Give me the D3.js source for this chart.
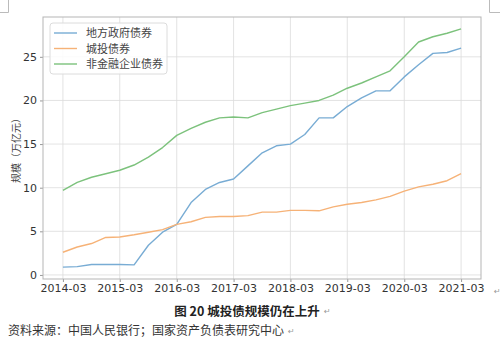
<!DOCTYPE html>
<html>
<head>
<meta charset="utf-8">
<script src="https://cdn.jsdelivr.net/npm/d3@7"></script>
<style>
  body { margin: 0; background: #fff; }
  #chart { width: 500px; height: 362px; }
  .tick text { font-family: "DejaVu Sans", sans-serif; font-size: 11px; fill: #333; }
</style>
</head>
<body>
<div id="chart"></div>
<script>
// quarterly dates, 2014-03 .. 2021-03
const quarters = [
  "2014-03", "2014-06", "2014-09", "2014-12",
  "2015-03", "2015-06", "2015-09", "2015-12",
  "2016-03", "2016-06", "2016-09", "2016-12",
  "2017-03", "2017-06", "2017-09", "2017-12",
  "2018-03", "2018-06", "2018-09", "2018-12",
  "2019-03", "2019-06", "2019-09", "2019-12",
  "2020-03", "2020-06", "2020-09", "2020-12",
  "2021-03",
];

// values in 万亿元
const localGov = [
  0.9, 0.95, 1.2, 1.2, 1.2, 1.15, 3.4, 4.9,
  5.8, 8.3, 9.8, 10.6, 11.0, 12.5, 14.0, 14.8,
  15.0, 16.1, 18.0, 18.0, 19.3, 20.3, 21.1, 21.1,
  22.7, 24.1, 25.4, 25.5, 26.0,
];
const chengtou = [
  2.6, 3.2, 3.6, 4.3, 4.35, 4.6, 4.9, 5.2,
  5.8, 6.1, 6.6, 6.7, 6.7, 6.8, 7.2, 7.2,
  7.4, 7.4, 7.35, 7.8, 8.1, 8.3, 8.6, 9.0,
  9.6, 10.1, 10.4, 10.8, 11.6,
];
const nonFinCorp = [
  9.7, 10.6, 11.2, 11.6, 12.0, 12.6, 13.5, 14.6,
  16.0, 16.8, 17.5, 18.0, 18.1, 18.0, 18.6, 19.0,
  19.4, 19.7, 20.0, 20.6, 21.4, 22.0, 22.7, 23.4,
  25.0, 26.7, 27.3, 27.7, 28.2,
];

const seriesNames = ["地方政府债券", "城投债券", "非金融企业债券"];
const seriesColors = ["#78acd4", "#f6b277", "#7cc27c"];
const xTickLabels = ["2014-03", "2015-03", "2016-03", "2017-03", "2018-03", "2019-03", "2020-03", "2021-03"];
const yTicks = [0, 5, 10, 15, 20, 25];

const width = 500, height = 362;
const plot = { left: 43, right: 481, top: 17, bottom: 279 };

const parse = d3.timeParse("%Y-%m");
const dates = quarters.map(parse);

const svg = d3.select("#chart").append("svg")
  .attr("width", width)
  .attr("height", height);

// word page corner marks
const corner = svg.append("g").attr("stroke", "#bbb").attr("fill", "none");
corner.append("path").attr("d", "M8.5,0 V12.5 H0");
corner.append("path").attr("d", "M489.5,0 V12.5 H500");

// matplotlib-style 5% margins
const x0 = dates[0], x1 = dates[dates.length - 1];
const span = x1 - x0;
const xScale = d3.scaleTime()
  .domain([new Date(+x0 - span * 0.05), new Date(+x1 + span * 0.05)])
  .range([plot.left, plot.right]);

const allValues = localGov.concat(chengtou, nonFinCorp);
const yMin = d3.min(allValues), yMax = d3.max(allValues);
const yPad = (yMax - yMin) * 0.05;
const yScale = d3.scaleLinear()
  .domain([yMin - yPad, yMax + yPad])
  .range([plot.bottom, plot.top]);

// grid
const grid = svg.append("g").attr("stroke", "#dcdcdc").attr("stroke-width", 0.8);
xTickLabels.forEach(function (t) {
  const xp = xScale(parse(t));
  grid.append("line").attr("x1", xp).attr("x2", xp).attr("y1", plot.top).attr("y2", plot.bottom);
});
yTicks.forEach(function (v) {
  const yp = yScale(v);
  grid.append("line").attr("x1", plot.left).attr("x2", plot.right).attr("y1", yp).attr("y2", yp);
});

// axes
const xAxis = d3.axisBottom(xScale)
  .tickValues(xTickLabels.map(parse))
  .tickFormat(d3.timeFormat("%Y-%m"))
  .tickSize(3)
  .tickPadding(2);
const gx = svg.append("g")
  .attr("transform", `translate(0, ${plot.bottom})`)
  .call(xAxis);

const yAxis = d3.axisLeft(yScale)
  .tickValues(yTicks)
  .tickSize(3)
  .tickPadding(3);
const gy = svg.append("g")
  .attr("transform", `translate(${plot.left}, 0)`)
  .call(yAxis);

[gx, gy].forEach(function (g) {
  g.select(".domain").remove();
  g.selectAll(".tick line").attr("stroke", "#999");
});

// frame
svg.append("rect")
  .attr("x", plot.left)
  .attr("y", plot.top)
  .attr("width", plot.right - plot.left)
  .attr("height", plot.bottom - plot.top)
  .attr("fill", "none")
  .attr("stroke", "#b5b5b5")
  .attr("stroke-width", 1);

// lines
const seriesData = [localGov, chengtou, nonFinCorp];
const line = d3.line()
  .x(function (d, i) { return xScale(dates[i]); })
  .y(function (d) { return yScale(d); });

seriesData.forEach(function (s, i) {
  svg.append("path")
    .datum(s)
    .attr("d", line)
    .attr("fill", "none")
    .attr("stroke", seriesColors[i])
    .attr("stroke-width", 1.4)
    .attr("stroke-linejoin", "round");
});

// legend
const legend = svg.append("g").attr("transform", "translate(50, 23)");
legend.append("rect")
  .attr("width", 117)
  .attr("height", 51)
  .attr("rx", 3)
  .attr("fill", "#fff")
  .attr("fill-opacity", 0.85)
  .attr("stroke", "#dcdcdc");
seriesNames.forEach(function (name, i) {
  const ly = 10 + i * 15.5;
  legend.append("line")
    .attr("x1", 4).attr("x2", 27)
    .attr("y1", ly).attr("y2", ly)
    .attr("stroke", seriesColors[i])
    .attr("stroke-width", 1.4);
  legend.append("text")
    .attr("x", 36)
    .attr("y", ly + 4)
    .attr("font-family", "Noto Sans CJK SC")
    .attr("font-size", 11)
    .attr("fill", "#444")
    .text(name);
});

// y label
svg.append("text")
  .attr("transform", `translate(20, ${(plot.top + plot.bottom) / 2}) rotate(-90)`)
  .attr("text-anchor", "middle")
  .attr("font-family", "Noto Sans CJK SC")
  .attr("font-size", 10)
  .attr("fill", "#444")
  .text("规模（万亿元）");

// caption and source
svg.append("text")
  .attr("x", 247)
  .attr("y", 316)
  .attr("text-anchor", "middle")
  .attr("font-family", "Noto Sans CJK SC")
  .attr("font-weight", "bold")
  .attr("font-size", 12.5)
  .attr("fill", "#222")
  .text("图 20 城投债规模仍在上升");

svg.append("text")
  .attr("x", 8)
  .attr("y", 335)
  .attr("font-family", "Noto Sans CJK SC")
  .attr("font-size", 12)
  .attr("fill", "#333")
  .text("资料来源：中国人民银行；国家资产负债表研究中心");

// paragraph marks
[[494, 294], [324, 314], [288, 334]].forEach(function (p) {
  svg.append("text")
    .attr("x", p[0]).attr("y", p[1])
    .attr("font-family", "DejaVu Sans")
    .attr("font-size", 8)
    .attr("fill", "#999")
    .text("↵");
});
</script>
</body>
</html>
